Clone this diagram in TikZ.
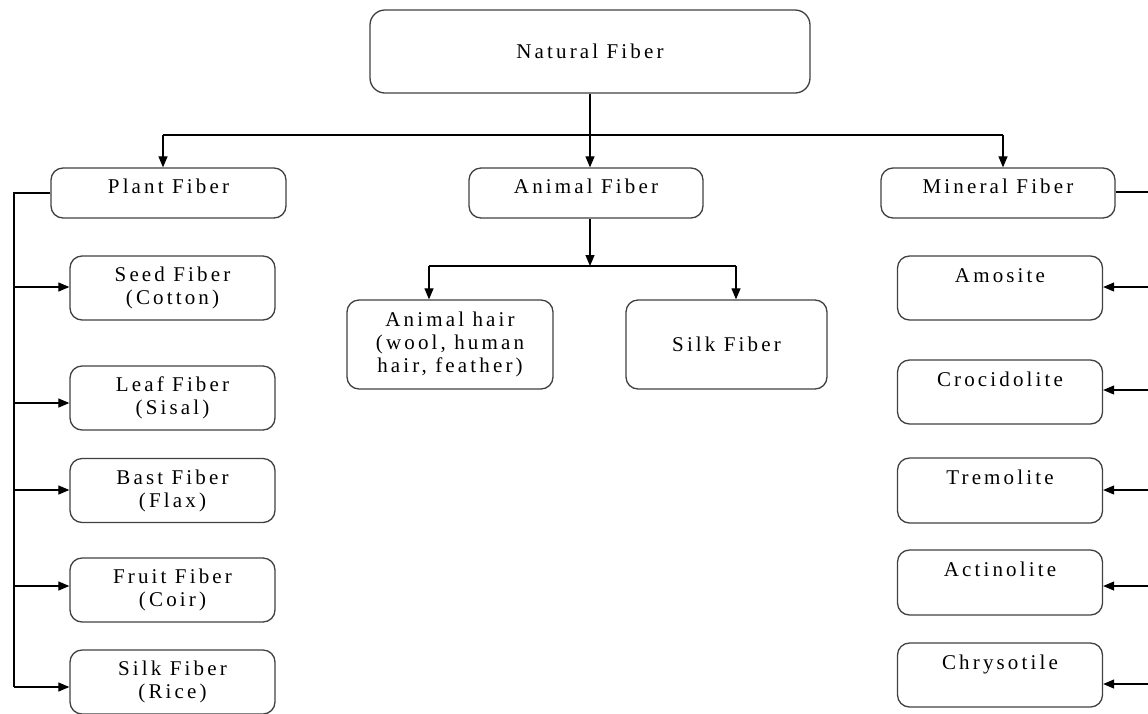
\documentclass[tikz,border=0pt]{standalone}
\usepackage{fontspec}
\setmainfont{Liberation Serif}[LetterSpace=15]
\usetikzlibrary{arrows.meta}
\begin{document}
\begin{tikzpicture}[x=1pt,y=-1pt,
  box/.style={draw=black!75, line width=1.3pt, rounded corners=12pt, inner sep=0pt,
    font=\fontsize{21}{23}\selectfont, align=center},
  headbox/.style={box, text height=10pt, text depth=10pt},
  topbox/.style={box, text height=10pt, text depth=22pt},
  conn/.style={draw=black, line width=1.2pt},
  arr/.style={conn, -{Triangle[length=11pt,width=9pt]}}]
\useasboundingbox (0,0) rectangle (1148,713);
% top
\node[box, rounded corners=15pt, minimum width=440pt, minimum height=83pt] (nat) at (590,51.5) {Natural Fiber};
\node[headbox, minimum width=235pt, minimum height=50pt] (plant) at (168.5,193) {Plant Fiber};
\node[headbox, minimum width=234pt, minimum height=50pt] (animal) at (586,193) {Animal Fiber};
\node[headbox, minimum width=234pt, minimum height=50pt] (mineral) at (998,193) {Mineral Fiber};
% plant children
\node[box, minimum width=205pt, minimum height=64pt] (seed) at (172.5,288) {Seed Fiber\\(Cotton)};
\node[box, minimum width=205pt, minimum height=64pt] (leaf) at (172.5,398) {Leaf Fiber\\(Sisal)};
\node[box, minimum width=205pt, minimum height=64pt] (bast) at (172.5,490.5) {Bast Fiber\\(Flax)};
\node[box, minimum width=205pt, minimum height=64pt] (fruit) at (172.5,590) {Fruit Fiber\\(Coir)};
\node[box, minimum width=205pt, minimum height=64pt] (rice) at (172.5,682) {Silk Fiber\\(Rice)};
% animal children
\node[box, minimum width=206pt, minimum height=89pt] (hair) at (450,344.5) {Animal hair\\(wool, human\\hair, feather)};
\node[box, minimum width=201pt, minimum height=89pt] (silk) at (726.5,344.5) {Silk Fiber};
% mineral children
\node[topbox, minimum width=205pt, minimum height=64pt] (amo) at (1000,288) {Amosite};
\node[topbox, minimum width=205pt, minimum height=64pt] (cro) at (1000,392) {Crocidolite};
\node[topbox, minimum width=205pt, minimum height=65pt] (tre) at (1000,490.5) {Tremolite};
\node[topbox, minimum width=205pt, minimum height=65pt] (act) at (1000,582.5) {Actinolite};
\node[topbox, minimum width=205pt, minimum height=64pt] (chr) at (1000,675) {Chrysotile};
% connectors from top
\coordinate (jl) at (163,135);
\coordinate (jr) at (1003,135);
\draw[conn] (jl) -- (jr);
\draw[arr] (nat.south) -- (nat.south |- animal.north);
\draw[arr] (jl) -- (jl |- plant.north);
\draw[arr] (jr) -- (jr |- mineral.north);
% animal branch
\coordinate (aj) at (590,266);
\coordinate (ajl) at (429,266);
\coordinate (ajr) at (736,266);
\draw[arr] (animal.south -| aj) -- (aj);
\draw[conn] (ajl) -- (ajr);
\draw[arr] (ajl) -- (ajl |- hair.north);
\draw[arr] (ajr) -- (ajr |- silk.north);
% plant spine
\coordinate (ps) at (14,193);
\coordinate (pe) at (14,687);
\draw[conn] (plant.west) -- (ps) -- (pe);
\draw[arr] (14,287) -- (seed.west |- 0,287);
\draw[arr] (14,403) -- (leaf.west |- 0,403);
\draw[arr] (14,490) -- (bast.west |- 0,490);
\draw[arr] (14,586) -- (fruit.west |- 0,586);
\draw[arr] (pe) -- (rice.west |- pe);
% mineral spine (at the very edge, outside the page)
\coordinate (ms) at (1150,192);
\coordinate (me) at (1150,684);
\draw[conn] (mineral.east |- ms) -- (ms) -- (me);
\draw[arr] (1150,287) -- (amo.east |- 0,287);
\draw[arr] (1150,390) -- (cro.east |- 0,390);
\draw[arr] (1150,490) -- (tre.east |- 0,490);
\draw[arr] (1150,586) -- (act.east |- 0,586);
\draw[arr] (me) -- (chr.east |- me);
\end{tikzpicture}
\end{document}
